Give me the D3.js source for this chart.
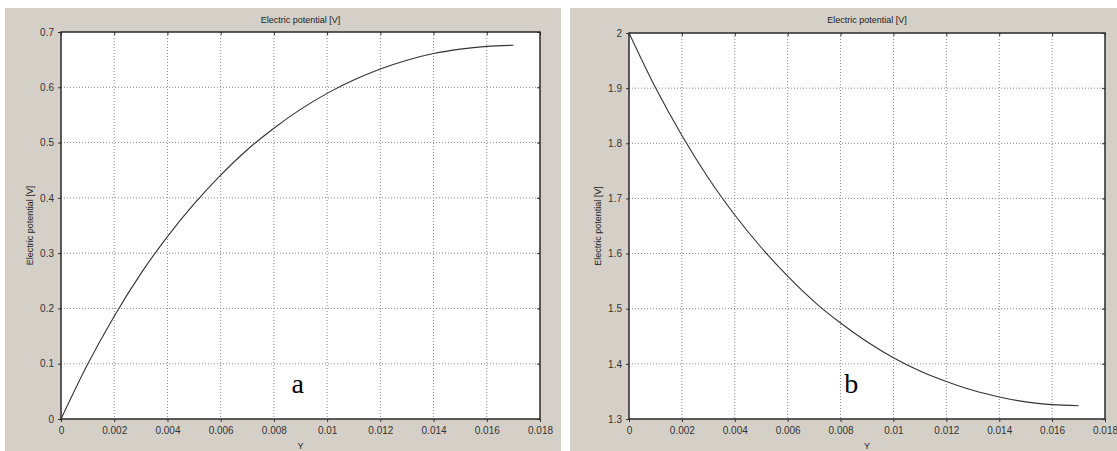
<!DOCTYPE html>
<html>
<head>
<meta charset="utf-8">
<script src="https://cdn.jsdelivr.net/npm/d3@7"></script>
<style>
  body { margin: 0; background: #fff; }
  svg { display: block; }
  .panel { fill: #d4d0c8; }
  .plot-bg { fill: #fff; }
  .grid line { stroke: #8a8a8a; stroke-dasharray: 1,2; }
  .frame { fill: none; stroke: #2a2a2a; stroke-width: 1.5; }
  .axis text { font-family: "Liberation Sans", Arial, sans-serif; font-size: 10px; fill: #333; }
  .axis path { display: none; }
  .axis line { stroke: #333; }
  .title, .xlabel, .ylabel { font-family: "Liberation Sans", Arial, sans-serif; font-size: 9px; fill: #222; }
  .curve { fill: none; stroke: #333; stroke-width: 1.1; }
  .letter { font-family: "Liberation Serif", "Times New Roman", serif; font-size: 28px; fill: #000; }
</style>
</head>
<body>
<svg id="chart" width="1117" height="451"></svg>
<script>
/* Electric potential along Y, two cases (a) and (b) */

const yPos = [0, 0.001, 0.002, 0.003, 0.004, 0.005, 0.006, 0.007, 0.008,
              0.009, 0.010, 0.011, 0.012, 0.013, 0.014, 0.015, 0.016, 0.017];

const potentialA = [0, 0.099, 0.186, 0.263, 0.330, 0.389, 0.441, 0.487, 0.526,
                    0.560, 0.589, 0.613, 0.633, 0.649, 0.661, 0.669, 0.674, 0.676];

const potentialB = [2, 1.901, 1.814, 1.737, 1.670, 1.611, 1.559, 1.513, 1.474,
                    1.440, 1.411, 1.387, 1.368, 1.352, 1.340, 1.331, 1.326, 1.324];

const xTicks = [0, 0.002, 0.004, 0.006, 0.008, 0.010, 0.012, 0.014, 0.016, 0.018];
const xTickLabels = ["0", "0.002", "0.004", "0.006", "0.008", "0.01", "0.012", "0.014", "0.016", "0.018"];
const yTicksA = [0, 0.1, 0.2, 0.3, 0.4, 0.5, 0.6, 0.7];
const yTicksB = [1.3, 1.4, 1.5, 1.6, 1.7, 1.8, 1.9, 2];

const svg = d3.select("#chart");

function drawPanel(opts) {
    const g = svg.append("g");

    g.append("rect").attr("class", "panel")
        .attr("x", opts.panel[0]).attr("y", opts.panel[1])
        .attr("width", opts.panel[2]).attr("height", opts.panel[3]);

    const x = d3.scaleLinear().domain([0, 0.018]).range([opts.left, opts.right]);
    const y = d3.scaleLinear().domain(opts.yDomain).range([opts.bottom, opts.top]);

    g.append("rect").attr("class", "plot-bg")
        .attr("x", opts.left).attr("y", opts.top)
        .attr("width", opts.right - opts.left).attr("height", opts.bottom - opts.top);

    // dotted grid
    g.append("g").attr("class", "grid")
        .selectAll("line.v").data(xTicks.slice(1, -1)).enter()
        .append("line")
        .attr("x1", d => x(d)).attr("x2", d => x(d))
        .attr("y1", opts.top).attr("y2", opts.bottom);
    g.append("g").attr("class", "grid")
        .selectAll("line.h").data(opts.yTicks.slice(1, -1)).enter()
        .append("line")
        .attr("y1", d => y(d)).attr("y2", d => y(d))
        .attr("x1", opts.left).attr("x2", opts.right);

    // small inner ticks on top and right edges
    g.append("g").attr("class", "axis")
        .attr("transform", "translate(0," + opts.top + ")")
        .call(d3.axisBottom(x).tickValues(xTicks).tickSize(3).tickFormat(""));
    g.append("g").attr("class", "axis")
        .attr("transform", "translate(" + opts.right + ",0)")
        .call(d3.axisLeft(y).tickValues(opts.yTicks).tickSize(3).tickFormat(""));

    g.append("g").attr("class", "axis")
        .attr("transform", "translate(0," + opts.bottom + ")")
        .call(d3.axisBottom(x).tickValues(xTicks).tickSize(3).tickPadding(5)
            .tickFormat((d, i) => xTickLabels[i]));
    g.append("g").attr("class", "axis")
        .attr("transform", "translate(" + opts.left + ",0)")
        .call(d3.axisLeft(y).tickValues(opts.yTicks).tickSize(3).tickPadding(4)
            .tickFormat(d3.format("~g")));

    const line = d3.line()
        .x((d, i) => x(yPos[i]))
        .y(d => y(d))
        .curve(d3.curveMonotoneX);
    g.append("path").attr("class", "curve")
        .datum(opts.values)
        .attr("d", line);

    g.append("rect").attr("class", "frame")
        .attr("x", opts.left).attr("y", opts.top)
        .attr("width", opts.right - opts.left).attr("height", opts.bottom - opts.top);

    const cx = (opts.left + opts.right) / 2;
    g.append("text").attr("class", "title")
        .attr("x", cx).attr("y", 23).attr("text-anchor", "middle")
        .text("Electric potential [V]");
    g.append("text").attr("class", "xlabel")
        .attr("x", cx).attr("y", 449).attr("text-anchor", "middle")
        .text("Y");
    g.append("text").attr("class", "ylabel")
        .attr("transform", "translate(" + (opts.left - 28) + "," + ((opts.top + opts.bottom) / 2) + ") rotate(-90)")
        .attr("text-anchor", "middle")
        .text("Electric potential [V]");

    g.append("text").attr("class", "letter")
        .attr("x", x(opts.letterAt[0])).attr("y", y(opts.letterAt[1]))
        .attr("text-anchor", "middle")
        .text(opts.letter);
}

drawPanel({
    panel: [5, 8, 556, 443],
    left: 61, right: 540, top: 32, bottom: 419,
    yDomain: [0, 0.7], yTicks: yTicksA,
    values: potentialA,
    letter: "a", letterAt: [0.0089, 0.047]
});

drawPanel({
    panel: [570, 8, 547, 443],
    left: 629, right: 1105, top: 33, bottom: 419,
    yDomain: [1.3, 2], yTicks: yTicksB,
    values: potentialB,
    letter: "b", letterAt: [0.0084, 1.347]
});
</script>
</body>
</html>
